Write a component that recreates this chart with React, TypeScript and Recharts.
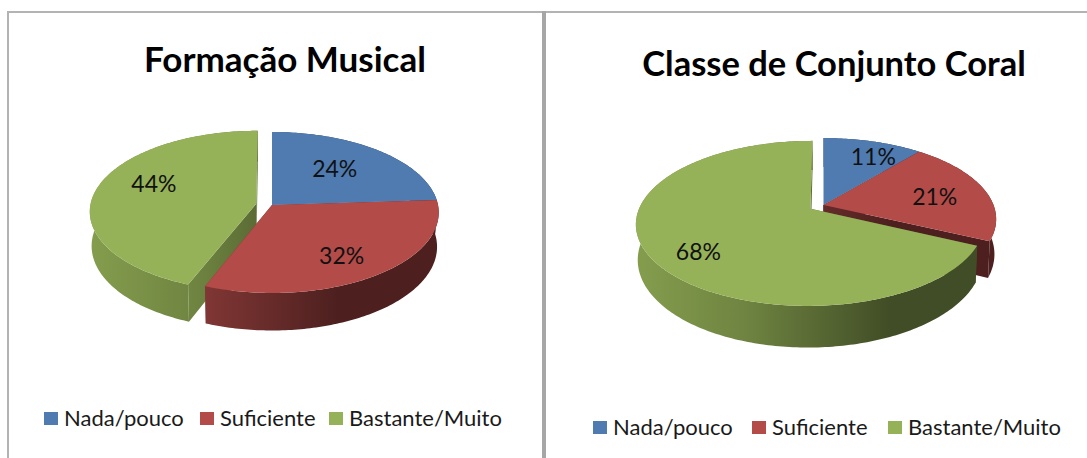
import { PieChart, Pie, Cell, Legend } from "recharts";

const categories = ["Nada/pouco", "Suficiente", "Bastante/Muito"];
const formacaoValues = [24, 32, 44];
const coralValues = [11, 21, 68];
const colors = ["#4f7bb1", "#b34b49", "#96b258"];

const formacaoData = categories.map((name, i) => ({ name, value: formacaoValues[i] }));
const coralData = categories.map((name, i) => ({ name, value: coralValues[i] }));

const FONT = "Lato, 'Open Sans', sans-serif";

// fake 3D: the flat recharts sector is projected on a tilted disc
const DEPTH = 34;
const BOTTOM_SCALE = 0.99;

function shade(hex: string, f: number) {
  const n = parseInt(hex.slice(1), 16);
  const c = [(n >> 16) & 255, (n >> 8) & 255, n & 255].map((v) => Math.round(v * f));
  return `rgb(${c[0]},${c[1]},${c[2]})`;
}

function makeProjector(p: number, q: number, explodeAmount: number) {
  return (props: any) => {
    const { cx, cy, outerRadius: R, startAngle, endAngle } = props;
    const exploded = explodeAmount > 0;
    const mid = ((startAngle + endAngle) / 2) * (Math.PI / 180);
    const du = exploded ? explodeAmount * Math.cos(mid) : 0;
    const dv = exploded ? explodeAmount * Math.sin(mid) : 0;
    const point = (u: number, v: number, down: boolean) => {
      const w = 1 + p * (v + dv);
      const k = down ? BOTTOM_SCALE : 1;
      return [
        cx + (k * R * (u + du)) / w,
        cy - (q * (v + dv)) / w + (down ? DEPTH / w : 0),
      ];
    };
    const arc = (down: boolean) => {
      const n = Math.max(2, Math.ceil(Math.abs(startAngle - endAngle)));
      const pts = [];
      for (let i = 0; i <= n; i++) {
        const a = ((startAngle + ((endAngle - startAngle) * i) / n) * Math.PI) / 180;
        pts.push(point(Math.cos(a), Math.sin(a), down));
      }
      return pts;
    };
    return { point, arc };
  };
}

const toPath = (pts: number[][]) =>
  "M" + pts.map((pt) => pt[0].toFixed(2) + " " + pt[1].toFixed(2)).join("L") + "Z";

function Chart3D({ id, data, title, left, centerX, centerY, radius, persp, tilt, explodeIndex, explode, wallOrder, labelNudge, titleX, titleY, titleSize, legendTop, legendLeft, legendGaps }: any) {
  const projector = (index: number) => makeProjector(persp, tilt, index === explodeIndex ? explode : 0);

  const renderWall = (only: number) => (props: any) => {
    const index = categories.indexOf(props.name);
    if (index !== only) return <g />;
    const { arc, point } = projector(index)(props);
    const top = arc(false);
    const bottom = arc(true);
    const tip = point(0, 0, false);
    const tipDown = point(0, 0, true);
    const gradId = `${id}-wall-${index}`;
    const x1 = props.cx - props.outerRadius * 1.1;
    const x2 = props.cx + props.outerRadius * 1.03;
    const fill = `url(#${gradId})`;
    return (
      <g>
        <defs>
          <linearGradient id={gradId} gradientUnits="userSpaceOnUse" x1={x1} x2={x2} y1={0} y2={0}>
            <stop offset="0" stopColor={shade(colors[index], 0.88)} />
            <stop offset="0.3" stopColor={shade(colors[index], 0.74)} />
            <stop offset="0.7" stopColor={shade(colors[index], 0.43)} />
            <stop offset="1" stopColor={shade(colors[index], 0.43)} />
          </linearGradient>
        </defs>
        <path d={toPath([tip, top[0], bottom[0], tipDown])} fill={fill} />
        <path d={toPath([tip, top[top.length - 1], bottom[bottom.length - 1], tipDown])} fill={fill} />
        <path d={toPath([...top, ...bottom.slice().reverse()])} fill={fill} />
      </g>
    );
  };

  const renderTop = (props: any) => {
    const index = categories.indexOf(props.name);
    const { arc, point } = projector(index)(props);
    return <path d={toPath([point(0, 0, false), ...arc(false)])} fill={colors[index]} />;
  };

  const renderLabel = (props: any) => {
    const index = categories.indexOf(props.name);
    const { point } = projector(index)(props);
    const a = (props.midAngle * Math.PI) / 180;
    const pos = point(0.65 * Math.cos(a), 0.65 * Math.sin(a), false);
    return (
      <text
        x={pos[0] + labelNudge[index][0]}
        y={pos[1] + labelNudge[index][1]}
        textAnchor="middle"
        dominantBaseline="central"
        fontFamily={FONT}
        fontSize={23}
        fill="#111"
      >
        {props.value}%
      </text>
    );
  };

  const renderLegend = () => (
    <div style={{ position: "relative", height: 28 }}>
      {categories.map((name, i) => (
        <div key={name} style={{ position: "absolute", left: legendGaps[i], top: 0, display: "flex", alignItems: "center", whiteSpace: "nowrap", fontFamily: FONT, fontSize: 22, color: "#1a1a1a", lineHeight: "28px" }}>
          <span style={{ display: "inline-block", width: 14, height: 13, marginRight: 6, background: colors[i] }} />
          {name}
        </div>
      ))}
    </div>
  );

  return (
    <div style={{ position: "absolute", left, top: 0, width: 545, height: 458 }}>
      <div style={{ position: "absolute", left: titleX - 272, width: 544, top: titleY - 25, height: 50, lineHeight: "50px", textAlign: "center", fontFamily: FONT, fontWeight: 700, fontSize: titleSize, color: "#000", whiteSpace: "nowrap" }}>
        {title}
      </div>
      <PieChart width={545} height={458} margin={{ top: 0, right: 0, bottom: 0, left: 0 }} style={{ position: "absolute", left: 0, top: 0 }}>
        {wallOrder.map((only: number) => (
          <Pie
            key={only}
            data={data}
            dataKey="value"
            nameKey="name"
            cx={centerX}
            cy={centerY}
            outerRadius={radius}
            startAngle={90}
            endAngle={-270}
            stroke="none"
            legendType="none"
            isAnimationActive={false}
            shape={renderWall(only)}
            inactiveShape={renderWall(only)}
          />
        ))}
        <Pie
          data={data}
          dataKey="value"
          nameKey="name"
          cx={centerX}
          cy={centerY}
          outerRadius={radius}
          startAngle={90}
          endAngle={-270}
          stroke="none"
          isAnimationActive={false}
          shape={renderTop}
          inactiveShape={renderTop}
          label={renderLabel}
          labelLine={false}
        >
          {data.map((entry: any, i: number) => (
            <Cell key={entry.name} fill={colors[i]} />
          ))}
        </Pie>
        <Legend content={renderLegend} wrapperStyle={{ left: legendLeft, top: legendTop, width: 500, bottom: "auto" }} />
      </PieChart>
    </div>
  );
}

export default function App() {
  return (
    <div style={{ position: "absolute", left: 0, top: 0, width: 1087, height: 458, overflow: "hidden", background: "#fff" }}>
      <div style={{ position: "absolute", left: 7, top: 11, width: 1080, height: 2, background: "#b3b3b3" }} />
      <div style={{ position: "absolute", left: 7, top: 11, width: 2, height: 447, background: "#b3b3b3" }} />
      <div style={{ position: "absolute", left: 542, top: 11, width: 4, height: 447, background: "#a6a6a6" }} />
      <Chart3D
        id="formacao"
        data={formacaoData}
        title="Formação Musical"
        left={0}
        centerX={272}
        centerY={205}
        radius={166}
        persp={0.093}
        tilt={79.8}
        explodeIndex={2}
        explode={0.096}
        wallOrder={[2, 0, 1]}
        labelNudge={[[-8, -1], [3, 6], [2, -11]]}
        titleX={285}
        titleY={58}
        titleSize={35}
        legendLeft={44}
        legendTop={404}
        legendGaps={[0, 156, 285]}
      />
      <Chart3D
        id="coral"
        data={coralData}
        title="Classe de Conjunto Coral"
        left={542}
        centerX={281.5}
        centerY={205}
        radius={170}
        persp={0.175}
        tilt={78.6}
        explodeIndex={2}
        explode={0.09}
        wallOrder={[0, 1, 2]}
        labelNudge={[[16, -6], [6, 2], [-11, 13]]}
        titleX={292}
        titleY={63}
        titleSize={34.5}
        legendLeft={51}
        legendTop={413}
        legendGaps={[0, 159, 295]}
      />
    </div>
  );
}
